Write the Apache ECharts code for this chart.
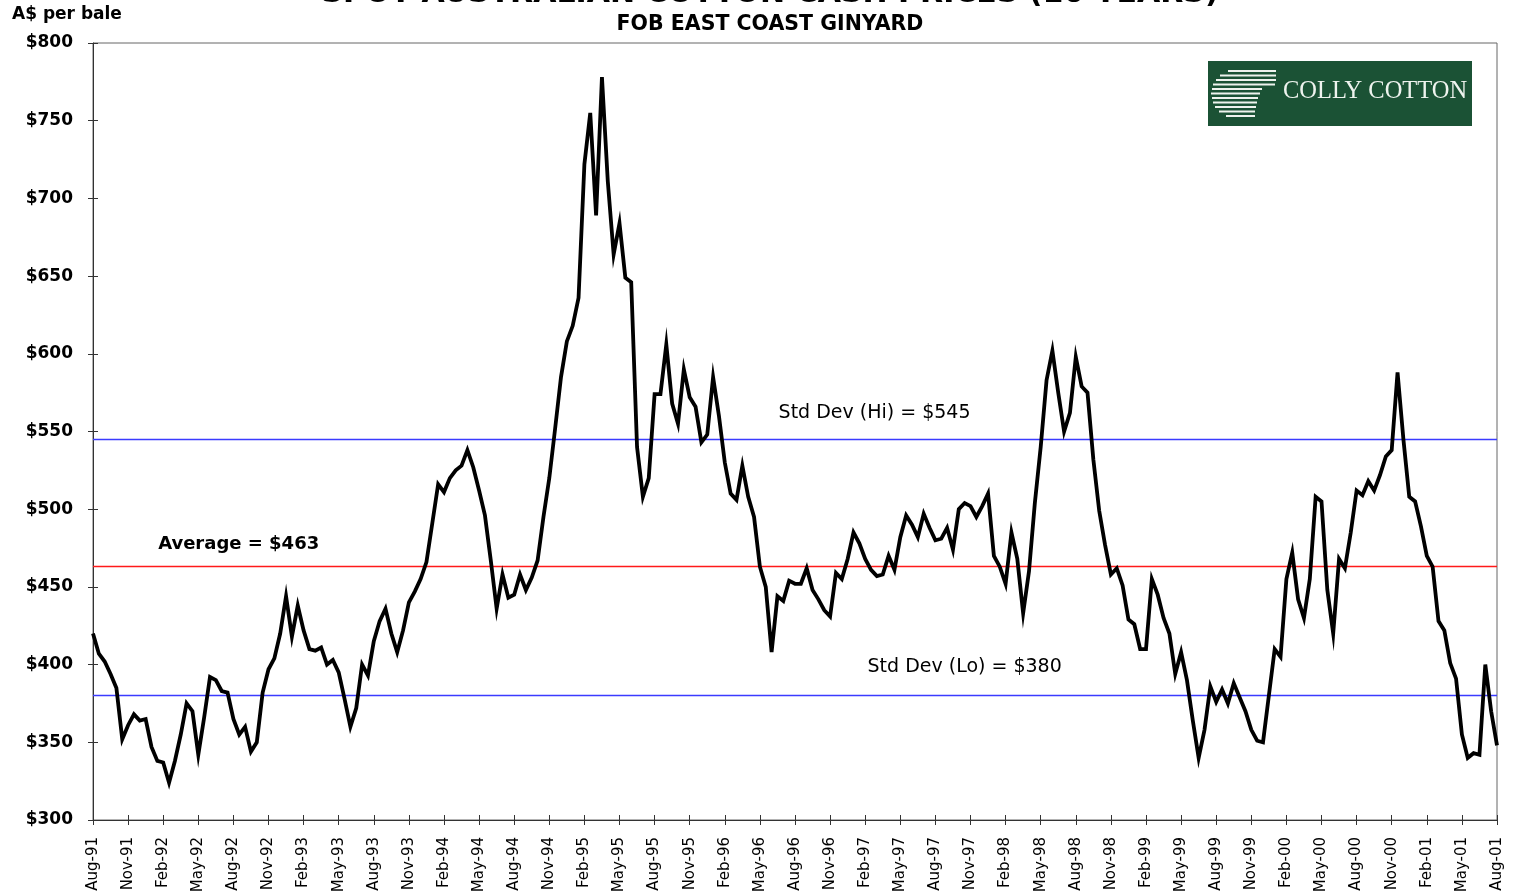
<!DOCTYPE html>
<html>
<head>
<meta charset="utf-8">
<title>Spot Australian Cotton Cash Prices</title>
<script src="https://cdn.jsdelivr.net/npm/echarts@6.0.0/dist/echarts.min.js"></script>
<style>
  html, body { margin: 0; padding: 0; background: #fff; }
  #chart { width: 1513px; height: 896px; }
</style>
</head>
<body>
<div id="chart"></div>
<script>
// months since Aug-91, one reading every half month
var STEP = 0.5;

var tickLabels = [
  'Aug-91', 'Nov-91', 'Feb-92', 'May-92', 'Aug-92', 'Nov-92', 'Feb-93', 'May-93',
  'Aug-93', 'Nov-93', 'Feb-94', 'May-94', 'Aug-94', 'Nov-94', 'Feb-95', 'May-95',
  'Aug-95', 'Nov-95', 'Feb-96', 'May-96', 'Aug-96', 'Nov-96', 'Feb-97', 'May-97',
  'Aug-97', 'Nov-97', 'Feb-98', 'May-98', 'Aug-98', 'Nov-98', 'Feb-99', 'May-99',
  'Aug-99', 'Nov-99', 'Feb-00', 'May-00', 'Aug-00', 'Nov-00', 'Feb-01', 'May-01',
  'Aug-01'
];

// A$ per bale
var prices = [
  420, 407, 402, 394, 385, 352, 361, 368, 364, 365, 347, 338, 337, 324, 338, 355, 375, 370, 342, 366, 392, 390, 383, 382,
  365, 355, 360, 344, 350, 382, 397, 404, 420, 444, 418, 438, 422, 410, 409, 411, 400, 403, 395, 378, 360, 372, 400, 393,
  415, 428, 436, 420, 408, 422, 440, 447, 455, 466, 491, 516, 511, 520, 525, 528, 538, 527, 512, 496, 467, 436, 458, 443,
  445, 458, 448, 456, 467, 495, 520, 552, 585, 608, 618, 636, 722, 755, 689, 778, 711, 664, 684, 649, 646, 540, 508, 520,
  574, 574, 606, 568, 555, 590, 572, 566, 543, 548, 585, 560, 530, 510, 506, 528, 508, 495, 463, 450, 408, 444, 441, 454,
  452, 452, 462, 448, 442, 435, 431, 459, 455, 468, 485, 478, 468, 461, 457, 458, 470, 461, 482, 496, 490, 482, 497, 488,
  480, 481, 488, 474, 500, 504, 502, 495, 502, 510, 470, 463, 452, 485, 468, 433, 460, 504, 540, 583, 602, 575, 550, 562,
  598, 579, 575, 532, 499, 477, 458, 462, 451, 429, 426, 410, 410, 455, 445, 430, 420, 394, 408, 390, 364, 340, 358, 386,
  376, 384, 375, 388, 379, 370, 358, 351, 350, 380, 410, 405, 455, 472, 442, 430, 455, 508, 505, 448, 420, 468, 462, 485,
  512, 509, 518, 512, 522, 534, 538, 588, 545, 508, 505, 489, 470, 463, 428, 422, 401, 391, 355, 340, 343, 342, 400, 370,
  348
];

var average = 463;
var stdDevHi = 545;
var stdDevLo = 380;

var chart = echarts.init(document.getElementById('chart'));

var seriesData = prices.map(function (v, i) {
  return [i * STEP, v];
});

// stripes of the logo mark: [left, right, y]
var logoStripes = [
  [1228, 1276, 71], [1220, 1276, 75.5], [1216, 1276, 80], [1213, 1275, 84.5],
  [1212, 1262, 89], [1211, 1260, 93.5], [1212, 1258, 98], [1213, 1257, 102.5],
  [1215, 1256, 107], [1219, 1255, 111.5], [1226, 1255, 116]
];

var graphics = [
  {
    type: 'text', x: 770, y: -6, silent: true,
    style: {
      text: 'SPOT AUSTRALIAN COTTON CASH PRICES (10 YEARS)',
      font: 'bold 30px "DejaVu Sans"', fill: '#000',
      align: 'center', verticalAlign: 'middle', textAlign: 'center', textVerticalAlign: 'middle'
    }
  },
  {
    type: 'text', x: 770, y: 25, silent: true,
    style: {
      text: 'FOB EAST COAST GINYARD',
      font: 'bold 20.5px "DejaVu Sans"', fill: '#000',
      align: 'center', verticalAlign: 'middle', textAlign: 'center', textVerticalAlign: 'middle'
    }
  },
  {
    type: 'text', x: 12, y: 15, silent: true,
    style: {
      text: 'A$ per bale',
      font: 'bold 17px "DejaVu Sans"', fill: '#000',
      align: 'left', verticalAlign: 'middle', textAlign: 'left', textVerticalAlign: 'middle'
    }
  },
  {
    type: 'rect', silent: true,
    shape: { x: 1208, y: 61, width: 264, height: 65 },
    style: { fill: '#1b5235' }
  },
  {
    type: 'text', x: 1283, y: 92, silent: true,
    style: {
      text: 'COLLY COTTON',
      font: '24.5px "Liberation Serif"', fill: '#eef3ee',
      align: 'left', verticalAlign: 'middle', textAlign: 'left', textVerticalAlign: 'middle'
    }
  }
];

logoStripes.forEach(function (s) {
  graphics.push({
    type: 'line', silent: true,
    shape: { x1: s[0], y1: s[2], x2: s[1], y2: s[2] },
    style: { stroke: '#eef3ee', lineWidth: 2 }
  });
});

var tickStyle = { color: '#333', width: 1 };

chart.setOption({
  animation: false,
  backgroundColor: '#fff',
  grid: {
    left: 93, right: 16, top: 43, bottom: 76,
    show: true, borderColor: '#666', borderWidth: 1, backgroundColor: '#fff'
  },
  xAxis: [
    {
      type: 'value', min: 0, max: 120, interval: 3,
      axisLine: { show: true, lineStyle: { color: '#333', width: 1 } },
      axisTick: { show: true, length: 5, lineStyle: tickStyle },
      splitLine: { show: false },
      axisLabel: {
        rotate: 90, margin: 17,
        color: '#000', fontFamily: 'DejaVu Sans', fontSize: 15,
        formatter: function (v) { return tickLabels[Math.round(v / 3)] || ''; }
      }
    },
    {
      // inner half of the crossing ticks
      type: 'value', min: 0, max: 120, interval: 3, position: 'bottom',
      axisLine: { show: false },
      axisTick: { show: true, inside: true, length: 5, lineStyle: tickStyle },
      axisLabel: { show: false },
      splitLine: { show: false }
    }
  ],
  yAxis: [
    {
      type: 'value', min: 300, max: 800, interval: 50,
      axisLine: { show: true, lineStyle: { color: '#333', width: 1 } },
      axisTick: { show: true, length: 5, lineStyle: tickStyle },
      splitLine: { show: false },
      axisLabel: {
        margin: 20, color: '#000', fontFamily: 'DejaVu Sans', fontWeight: 'bold', fontSize: 17,
        formatter: function (v) { return '$' + v; }
      }
    },
    {
      type: 'value', min: 300, max: 800, interval: 50, position: 'left',
      axisLine: { show: false },
      axisTick: { show: true, inside: true, length: 5, lineStyle: tickStyle },
      axisLabel: { show: false },
      splitLine: { show: false }
    }
  ],
  series: [
    {
      type: 'line',
      data: seriesData,
      showSymbol: false,
      symbol: 'none',
      lineStyle: { color: '#000', width: 3.8, join: 'miter' },
      z: 5,
      markLine: {
        silent: true,
        symbol: 'none',
        label: { show: false },
        z: 3,
        data: [
          { yAxis: average, lineStyle: { color: '#ff1a1a', width: 1.3, type: 'solid' } },
          { yAxis: stdDevHi, lineStyle: { color: '#3b3bff', width: 1.3, type: 'solid' } },
          { yAxis: stdDevLo, lineStyle: { color: '#3b3bff', width: 1.3, type: 'solid' } }
        ]
      },
      markPoint: {
        silent: true,
        symbol: 'rect',
        symbolSize: 1,
        itemStyle: { color: 'rgba(0,0,0,0)' },
        data: [
          {
            coord: [12.45, 477.5],
            label: {
              show: true, position: 'inside', formatter: 'Average = $' + average,
              color: '#000', fontFamily: 'DejaVu Sans', fontWeight: 'bold', fontSize: 18
            }
          },
          {
            coord: [66.8, 562],
            label: {
              show: true, position: 'inside', formatter: 'Std Dev (Hi) = $' + stdDevHi,
              color: '#000', fontFamily: 'DejaVu Sans', fontSize: 19
            }
          },
          {
            coord: [74.5, 398.5],
            label: {
              show: true, position: 'inside', formatter: 'Std Dev (Lo) = $' + stdDevLo,
              color: '#000', fontFamily: 'DejaVu Sans', fontSize: 19
            }
          }
        ]
      }
    }
  ],
  graphic: graphics
});
</script>
</body>
</html>
